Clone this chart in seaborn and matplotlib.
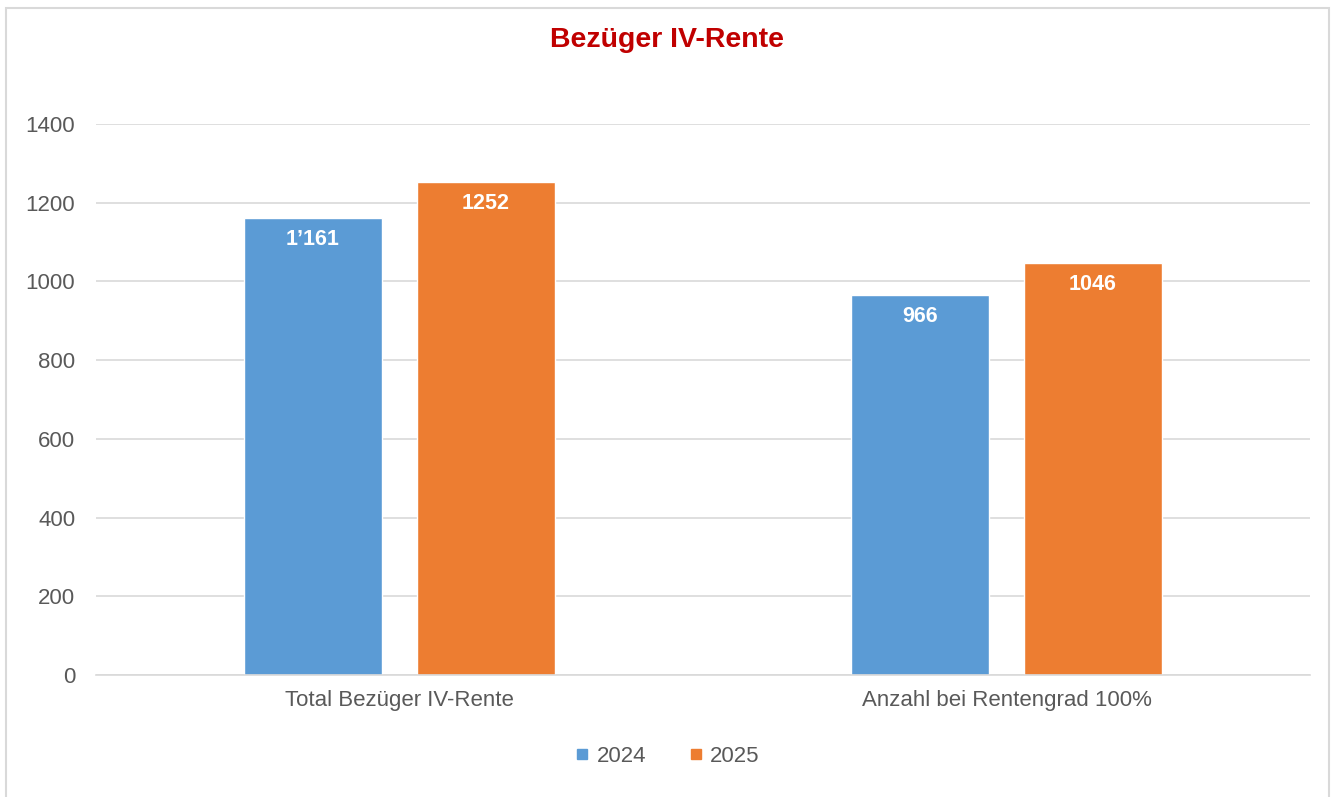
import matplotlib
matplotlib.use('Agg')
import matplotlib.pyplot as plt
from matplotlib.lines import Line2D
import pandas as pd
import seaborn as sns

# chart data
categories = ['Total Bezüger IV-Rente', 'Anzahl bei Rentengrad 100%']
years = ['2024', '2025']
values_2024 = [1161, 966]
values_2025 = [1252, 1046]
labels_2024 = ['1\u2019161', '966']
labels_2025 = ['1252', '1046']
y_ticks = [0, 200, 400, 600, 800, 1000, 1200, 1400]

colors = {'2024': '#5B9BD5', '2025': '#ED7D31'}
text_grey = '#595959'

df = pd.DataFrame({
    'category': categories * 2,
    'year': [years[0]] * len(categories) + [years[1]] * len(categories),
    'value': values_2024 + values_2025,
})

sns.set_style('white')
plt.rcParams['font.family'] = ['Liberation Sans', 'DejaVu Sans']

fig = plt.figure(figsize=(13.34, 7.97), dpi=100)
ax = fig.add_axes([96 / 1334, 1 - 675 / 797, (1310 - 96) / 1334, (675 - 124) / 797])

sns.barplot(data=df, x='category', y='value', hue='year', palette=colors,
            width=0.57, gap=0.2, saturation=1, legend=False, ax=ax)

# value labels inside bar tops
for container, labels in zip(ax.containers, [labels_2024, labels_2025]):
    ax.bar_label(container, labels=labels, padding=-23, color='white',
                 fontsize=15.5, fontweight='bold')

ax.set_ylim(0, 1400)
ax.set_yticks(y_ticks)
ax.set_xlim(-0.5, 1.5)
ax.yaxis.grid(True, color='#d9d9d9', linewidth=1.2)
ax.set_axisbelow(True)
for side in ['top', 'right', 'left']:
    ax.spines[side].set_visible(False)
ax.spines['bottom'].set_color('#d9d9d9')
ax.spines['bottom'].set_linewidth(1.2)
ax.set_xlabel('')
ax.set_ylabel('')
ax.tick_params(axis='both', length=0, labelsize=16, labelcolor=text_grey)
ax.tick_params(axis='y', pad=15)
ax.tick_params(axis='x', pad=11)

fig.text(0.5, 1 - 40 / 797, 'Bezüger IV-Rente', ha='center', va='center',
         fontsize=20.5, fontweight='bold', color='#C00000')

handles = [Line2D([0], [0], marker='s', linestyle='', markersize=7.5,
                  markerfacecolor=colors[y], markeredgecolor=colors[y]) for y in years]
fig.legend(handles, years, loc='center', bbox_to_anchor=(0.5, 1 - 756 / 797),
           ncol=2, frameon=False, fontsize=16, labelcolor=text_grey,
           handletextpad=0.3, columnspacing=1.9, handlelength=0.7)

# outer chart border
border = plt.Rectangle((6 / 1334, -0.01), (1329 - 6) / 1334, 1 - 8 / 797 + 0.01,
                       transform=fig.transFigure, fill=False,
                       edgecolor='#d9d9d9', linewidth=1.5)
fig.patches.append(border)

fig.savefig('out.png', dpi=100)
